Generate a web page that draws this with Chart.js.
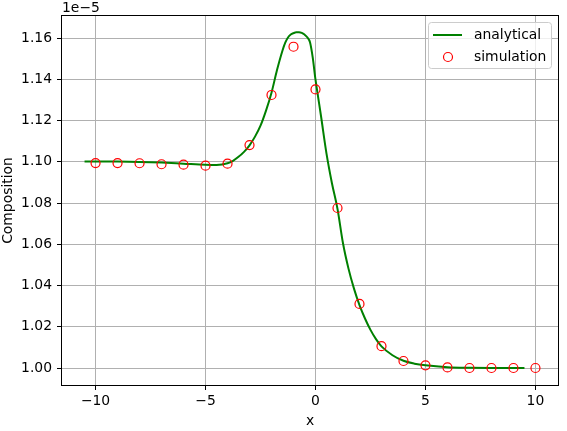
<!DOCTYPE html>
<html>
<head>
<meta charset="utf-8">
<script src="https://cdn.jsdelivr.net/npm/chart.js@4/dist/chart.umd.min.js"></script>
<style>
  html, body { margin: 0; padding: 0; background: #fff; }
  #wrap { width: 567px; height: 431px; }
</style>
</head>
<body>
<div id="wrap"><canvas id="chart" width="567" height="431"></canvas></div>
<script>
// values in units of 1e-5
const SIM_X = [-10, -9, -8, -7, -6, -5, -4, -3, -2, -1, 0, 1, 2, 3, 4, 5, 6, 7, 8, 9, 10];
const SIM_Y = [1.0994, 1.0994, 1.0993, 1.0988, 1.0986, 1.0981, 1.0991, 1.1081, 1.1324, 1.1558, 1.1351,
               1.0776, 1.0311, 1.0106, 1.0034, 1.0013, 1.0003, 1.0000, 1.0000, 1.0000, 1.0000];

const ANA_X = [-10.5, -9, -8, -7, -6, -5, -4.5, -4, -3.75, -3.5, -3.25, -3, -2.75, -2.5, -2.25, -2,
               -1.75, -1.5, -1.375, -1.25, -1.125, -1, -0.875, -0.75, -0.625, -0.5, -0.375, -0.25, -0.125,
               0, 0.125, 0.25, 0.5, 0.75, 1, 1.25, 1.5, 1.75, 2, 2.25, 2.5, 2.75, 3, 3.5, 4, 4.5, 5, 6, 7, 8, 9.5];
const ANA_Y = [1.1002, 1.1001, 1.0999, 1.0996, 1.0991, 1.0986, 1.0985, 1.0993, 1.1005, 1.1024, 1.1048, 1.1080,
               1.1122, 1.1175, 1.1248, 1.1335, 1.1445, 1.1540, 1.1578, 1.1603, 1.1617, 1.1624, 1.1628, 1.1628,
               1.1625, 1.1617, 1.1604, 1.1580, 1.1505, 1.1398, 1.1310, 1.1222, 1.1040, 1.0895, 1.0772, 1.0605,
               1.0482, 1.0385, 1.0305, 1.0240, 1.0185, 1.0140, 1.0105, 1.0062, 1.0035, 1.0021, 1.0013, 1.0004,
               1.0001, 1.0000, 1.0000];

const X_TICKS = [-10, -5, 0, 5, 10];
const Y_TICKS = [1.00, 1.02, 1.04, 1.06, 1.08, 1.10, 1.12, 1.14, 1.16];

const FONT = "DejaVu Sans";
const FS = 13.9;

const mplFrame = {
  id: "mplFrame",
  afterDatasetsDraw(chart) {
    const { ctx, chartArea: a } = chart;
    ctx.save();
    ctx.strokeStyle = "#000";
    ctx.lineWidth = 1;
    ctx.strokeRect(Math.round(a.left) - 0.5, Math.round(a.top) - 0.5,
                   Math.round(a.right - a.left) + 1, Math.round(a.bottom - a.top) + 1);

    // offset text
    ctx.fillStyle = "#000";
    ctx.font = `${FS}px "${FONT}"`;
    ctx.textAlign = "left";
    ctx.textBaseline = "middle";
    ctx.fillText("1e\u22125", a.left, 8);

    // legend
    const bx = 428.5, by = 22.5, bw = 123, bh = 46;
    ctx.beginPath();
    ctx.roundRect(bx, by, bw, bh, 3);
    ctx.fillStyle = "rgba(255,255,255,0.8)";
    ctx.fill();
    ctx.strokeStyle = "#cccccc";
    ctx.lineWidth = 1;
    ctx.stroke();

    const ds = chart.data.datasets;
    const rows = [35, 57];
    ds.forEach((d, i) => {
      const y = rows[i];
      if (d.showLine) {
        ctx.beginPath();
        ctx.moveTo(433, y);
        ctx.lineTo(462, y);
        ctx.strokeStyle = d.borderColor;
        ctx.lineWidth = d.borderWidth;
        ctx.stroke();
      } else {
        ctx.beginPath();
        ctx.arc(448, y, d.pointRadius, 0, Math.PI * 2);
        ctx.strokeStyle = d.borderColor;
        ctx.lineWidth = d.borderWidth;
        ctx.stroke();
      }
      ctx.fillStyle = "#000";
      ctx.fillText(d.label, 474, y);
    });
    ctx.restore();
  }
};

new Chart(document.getElementById("chart"), {
  type: "scatter",
  data: {
    datasets: [
      {
        type: "line",
        label: "analytical",
        data: ANA_X.map((x, i) => ({ x, y: ANA_Y[i] })),
        borderColor: "#008000",
        backgroundColor: "#008000",
        borderWidth: 2,
        pointRadius: 0,
        showLine: true,
        cubicInterpolationMode: "monotone",
        order: 1,
      },
      {
        type: "scatter",
        label: "simulation",
        data: SIM_X.map((x, i) => ({ x, y: SIM_Y[i] })),
        borderColor: "#ff0000",
        backgroundColor: "rgba(0,0,0,0)",
        borderWidth: 1.2,
        pointRadius: 4.5,
        pointHoverRadius: 4.5,
        showLine: false,
        order: 0,
      },
    ],
  },
  options: {
    responsive: false,
    devicePixelRatio: 1,
    animation: false,
    layout: { padding: { left: 0, right: 9, top: 16, bottom: 0 } },
    plugins: { legend: { display: false }, tooltip: { enabled: false } },
    scales: {
      x: {
        type: "linear",
        min: -11.525,
        max: 11.025,
        afterFit: s => { s.height = 46; },
        afterBuildTicks: s => { s.ticks = X_TICKS.map(v => ({ value: v })); },
        ticks: {
          color: "#000",
          font: { family: FONT, size: FS },
          padding: 3,
          maxRotation: 0,
          callback: v => String(v).replace("-", "\u2212"),
        },
        grid: { color: "#b0b0b0", lineWidth: 1, tickColor: "#000", tickLength: 5 },
        border: { display: false },
        title: { display: true, text: "x", color: "#000", font: { family: FONT, size: FS }, padding: { top: 0, bottom: 1 } },
      },
      y: {
        type: "linear",
        min: 0.99176,
        max: 1.1707,
        afterFit: s => { s.width = 62; },
        afterBuildTicks: s => { s.ticks = Y_TICKS.map(v => ({ value: v })); },
        ticks: {
          color: "#000",
          font: { family: FONT, size: FS },
          padding: 5,
          callback: v => v.toFixed(2),
        },
        grid: { color: "#b0b0b0", lineWidth: 1, tickColor: "#000", tickLength: 5 },
        border: { display: false },
        title: { display: true, text: "Composition", color: "#000", font: { family: FONT, size: FS }, padding: { top: 0, bottom: 0 } },
      },
    },
  },
  plugins: [mplFrame],
});
</script>
</body>
</html>
